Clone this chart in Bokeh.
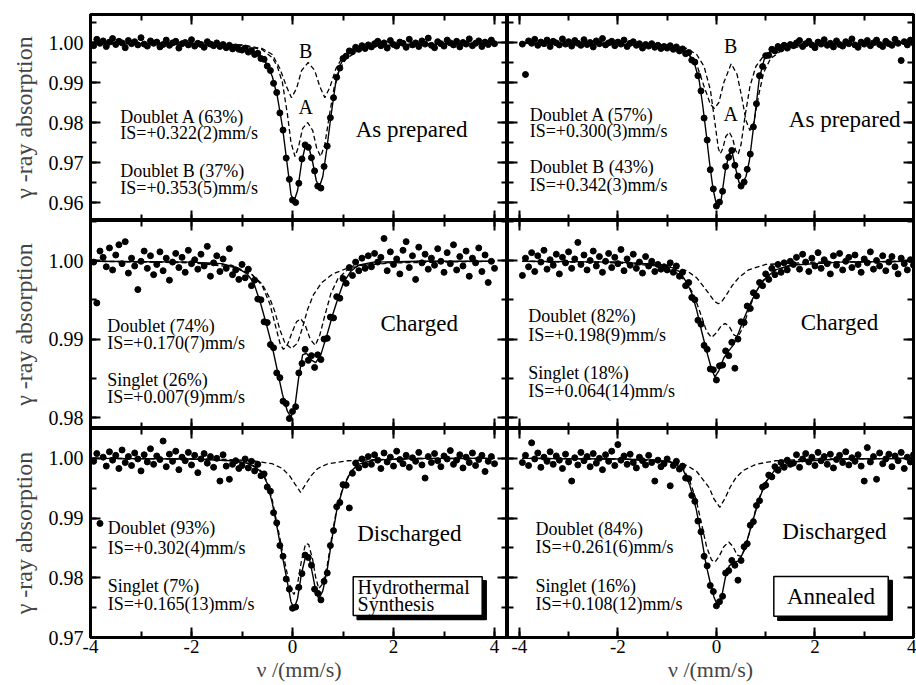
from bokeh.plotting import figure
from bokeh.layouts import column, row
from bokeh.models import (Range1d, LinearAxis, FixedTicker, NumeralTickFormatter,
                          CustomJSTickFormatter, Label, BoxAnnotation)
from bokeh.embed import file_html
from bokeh.resources import INLINE

FONT = "Liberation Serif, Times New Roman, Times, serif"

# ---------------- channel velocities (mm/s) ----------------
velocity = [
    -3.9375, -3.875, -3.8125, -3.75, -3.6875, -3.625, -3.5625, -3.5,
    -3.4375, -3.375, -3.3125, -3.25, -3.1875, -3.125, -3.0625, -3.0,
    -2.9375, -2.875, -2.8125, -2.75, -2.6875, -2.625, -2.5625, -2.5,
    -2.4375, -2.375, -2.3125, -2.25, -2.1875, -2.125, -2.0625, -2.0,
    -1.9375, -1.875, -1.8125, -1.75, -1.6875, -1.625, -1.5625, -1.5,
    -1.4375, -1.375, -1.3125, -1.25, -1.1875, -1.125, -1.0625, -1.0,
    -0.9375, -0.875, -0.8125, -0.75, -0.6875, -0.625, -0.5625, -0.5,
    -0.4375, -0.375, -0.3125, -0.25, -0.1875, -0.125, -0.0625, 0.0,
    0.0625, 0.125, 0.1875, 0.25, 0.3125, 0.375, 0.4375, 0.5,
    0.5625, 0.625, 0.6875, 0.75, 0.8125, 0.875, 0.9375, 1.0,
    1.0625, 1.125, 1.1875, 1.25, 1.3125, 1.375, 1.4375, 1.5,
    1.5625, 1.625, 1.6875, 1.75, 1.8125, 1.875, 1.9375, 2.0,
    2.0625, 2.125, 2.1875, 2.25, 2.3125, 2.375, 2.4375, 2.5,
    2.5625, 2.625, 2.6875, 2.75, 2.8125, 2.875, 2.9375, 3.0,
    3.0625, 3.125, 3.1875, 3.25, 3.3125, 3.375, 3.4375, 3.5,
    3.5625, 3.625, 3.6875, 3.75, 3.8125, 3.875, 3.9375, 4.0,
]

asprep_hydro = [
    0.9992, 1.0008, 0.9998, 1.0004, 0.9990, 1.0001, 1.0010, 0.9995, 1.0003, 0.9999,
    0.9987, 1.0005, 0.9997, 1.0002, 0.9994, 1.0012, 0.9996, 0.9991, 1.0004, 0.9998,
    1.0001, 0.9989, 0.9995, 1.0006, 0.9993, 0.9999, 1.0003, 0.9986, 0.9997, 1.0000,
    0.9994, 1.0007, 0.9991, 0.9998, 0.9995, 0.9988, 1.0002, 0.9996, 0.9992, 0.9999,
    0.9990, 0.9995, 0.9987, 0.9993, 0.9984, 0.9989, 0.9983,
    0.9981, 0.9986, 0.9976, 0.9980, 0.9970, 0.9973, 0.9960, 0.9958, 0.9941, 0.9930,
    0.9898, 0.9875, 0.9824, 0.9781, 0.9711, 0.9658, 0.9606, 0.9600, 0.9648, 0.9709,
    0.9744, 0.9738, 0.9712, 0.9679, 0.9641, 0.9636, 0.9690, 0.9741, 0.9812, 0.9862,
    0.9913, 0.9936, 0.9960, 0.9966, 0.9979, 0.9977, 0.9988, 0.9983, 0.9992, 0.9985,
    0.9994,
    0.9989, 0.9997, 1.0003, 0.9992, 0.9999, 0.9986, 1.0005, 0.9995, 0.9991, 1.0001,
    0.9998, 0.9988, 1.0008, 0.9994, 0.9999, 0.9990, 1.0004, 0.9996, 1.0011, 0.9993,
    0.9987, 1.0002, 0.9997, 0.9991, 1.0006, 0.9999, 0.9994, 1.0003, 0.9989, 1.0000,
    0.9996, 1.0009, 0.9992, 0.9998, 1.0004, 0.9990, 1.0001, 0.9995, 1.0006, 0.9997,
]
asprep_anneal = [
    0.9996, 0.9920, 1.0004, 0.9998, 1.0008, 0.9993, 1.0001, 0.9997, 1.0006, 0.9990,
    1.0003, 0.9999, 0.9994, 1.0009, 0.9996, 1.0002, 0.9991, 1.0005, 0.9998, 0.9993,
    1.0007, 0.9995, 1.0000, 0.9989, 1.0004, 0.9997, 1.0010, 0.9994, 0.9999, 1.0003,
    0.9992, 1.0001, 0.9996, 1.0006, 0.9990, 0.9998, 1.0002, 0.9993, 0.9997, 0.9986,
    0.9995, 0.9991, 0.9997, 0.9988, 0.9993, 0.9985, 0.9990,
    0.9986, 0.9992, 0.9983, 0.9989, 0.9979, 0.9984, 0.9972, 0.9975, 0.9956, 0.9951,
    0.9917, 0.9879, 0.9811, 0.9756, 0.9682, 0.9634, 0.9591, 0.9601, 0.9628, 0.9690,
    0.9713, 0.9730, 0.9693, 0.9666, 0.9641, 0.9651, 0.9683, 0.9721, 0.9789, 0.9847,
    0.9917, 0.9940, 0.9967, 0.9968, 0.9983, 0.9979, 0.9990, 0.9984, 0.9993, 0.9986,
    0.9995,
    0.9992, 0.9999, 1.0005, 0.9990, 0.9997, 1.0003, 0.9994, 0.9987, 1.0001, 0.9996,
    1.0007, 0.9993, 0.9998, 0.9989, 1.0004, 0.9995, 0.9991, 1.0002, 0.9997, 1.0009,
    0.9994, 0.9988, 1.0001, 0.9996, 1.0005, 0.9992, 0.9999, 1.0006, 0.9995, 0.9990,
    1.0003, 0.9997, 0.9993, 1.0008, 0.9998, 0.9955, 1.0002, 0.9994, 1.0006, 0.9999,
]
charged_hydro = [
    0.9998, 0.9946, 1.0012, 1.0004, 0.9992, 1.0016, 0.9988, 1.0007, 1.0020, 0.9996,
    1.0024, 0.9984, 1.0003, 0.9993, 0.9963, 0.9999, 1.0012, 0.9990, 1.0006, 0.9982,
    0.9995, 1.0011, 0.9987, 1.0003, 0.9975, 0.9998, 1.0009, 0.9991, 1.0004, 0.9985,
    1.0013, 0.9996, 1.0001, 0.9989, 1.0008, 0.9993, 1.0018, 0.9980, 0.9997, 1.0006,
    0.9986, 1.0002, 0.9990, 1.0015, 0.9982, 0.9988, 0.9976,
    0.9995, 0.9978, 0.9989, 0.9968, 0.9975, 0.9951, 0.9950, 0.9922, 0.9921, 0.9893,
    0.9889, 0.9857, 0.9851, 0.9821, 0.9818, 0.9799, 0.9808, 0.9814, 0.9857, 0.9869,
    0.9887, 0.9873, 0.9879, 0.9864, 0.9880, 0.9874, 0.9900, 0.9901, 0.9928, 0.9927,
    0.9954, 0.9952, 0.9977, 0.9971, 0.9991, 0.9981, 0.9998, 0.9987, 1.0003, 0.9990,
    1.0006,
    0.9992, 1.0009, 0.9998, 1.0004, 1.0028, 0.9987, 1.0011, 0.9995, 1.0002, 0.9983,
    1.0013, 1.0024, 0.9991, 1.0006, 0.9976, 1.0017, 0.9997, 1.0008, 0.9989, 1.0003,
    0.9994, 1.0015, 0.9999, 0.9985, 1.0010, 0.9996, 1.0020, 0.9988, 1.0005, 0.9993,
    1.0012, 0.9980, 1.0003, 0.9997, 1.0016, 0.9986, 1.0007, 0.9972, 0.9999, 0.9990,
]
charged_anneal = [
    0.9981, 1.0003, 0.9992, 1.0010, 0.9986, 1.0006, 0.9998, 1.0013, 0.9989, 1.0001,
    0.9994, 1.0008, 0.9983, 1.0004, 0.9997, 1.0011, 0.9990, 1.0002, 1.0023, 0.9995,
    1.0007, 0.9988, 1.0000, 1.0012, 0.9993, 1.0005, 0.9985, 0.9999, 1.0009, 0.9991,
    1.0004, 0.9996, 1.0014, 0.9987, 1.0002, 0.9994, 1.0008, 0.9990, 0.9998, 0.9984,
    1.0005, 0.9993, 0.9999, 0.9986, 0.9995, 0.9989, 0.9992,
    0.9988, 0.9997, 0.9985, 0.9993, 0.9980, 0.9985, 0.9968, 0.9972, 0.9953, 0.9950,
    0.9924, 0.9919, 0.9892, 0.9887, 0.9862, 0.9861, 0.9848, 0.9866, 0.9867, 0.9885,
    0.9879, 0.9896, 0.9863, 0.9900, 0.9922, 0.9921, 0.9942, 0.9939, 0.9959, 0.9955,
    0.9972, 0.9968, 0.9983, 0.9976, 0.9990, 0.9982, 0.9995, 0.9985, 0.9997, 0.9988,
    0.9999,
    0.9995, 1.0004, 0.9989, 1.0008, 0.9998, 0.9986, 1.0003, 0.9993, 1.0010, 0.9990,
    1.0001, 0.9996, 0.9983, 1.0006, 0.9994, 1.0009, 0.9988, 0.9999, 1.0004, 0.9991,
    1.0007, 0.9995, 0.9985, 1.0002, 0.9997, 1.0011, 0.9989, 1.0000, 0.9993, 1.0006,
    0.9987, 0.9998, 1.0005, 0.9992, 0.9983, 1.0003, 0.9996, 0.9988, 1.0001, 0.9994,
]
discharged_hydro = [
    0.9995, 1.0008, 0.9891, 1.0002, 0.9987, 1.0011, 0.9997, 1.0005, 0.9983, 1.0014,
    0.9993, 1.0003, 0.9988, 1.0009, 0.9999, 0.9979, 1.0006, 0.9994, 1.0016, 0.9990,
    1.0004, 0.9998, 1.0029, 0.9986, 1.0007, 0.9995, 1.0012, 0.9981, 1.0002, 0.9996,
    1.0010, 0.9989, 1.0005, 0.9976, 0.9999, 1.0008, 0.9992, 1.0003, 0.9985, 1.0000,
    0.9962, 1.0006, 0.9987, 0.9965, 0.9990, 0.9996, 0.9983,
    0.9988, 0.9999, 0.9984, 0.9995, 0.9979, 0.9990, 0.9971, 0.9974, 0.9952, 0.9945,
    0.9909, 0.9892, 0.9854, 0.9836, 0.9798, 0.9781, 0.9749, 0.9751, 0.9784, 0.9807,
    0.9838, 0.9834, 0.9821, 0.9781, 0.9774, 0.9763, 0.9794, 0.9808, 0.9854, 0.9879,
    0.9919, 0.9926, 0.9956, 0.9955, 0.9917, 0.9975, 0.9992, 0.9984, 0.9999, 0.9989,
    1.0003,
    0.9990, 1.0006, 0.9997, 0.9983, 1.0009, 0.9994, 1.0002, 0.9987, 1.0012, 0.9998,
    0.9991, 1.0005, 0.9985, 1.0001, 0.9995, 1.0010, 0.9989, 0.9967, 1.0003, 0.9993,
    1.0008, 0.9996, 0.9986, 1.0004, 0.9999, 1.0013, 0.9990, 0.9997, 1.0006, 0.9984,
    1.0002, 0.9993, 1.0009, 0.9988, 0.9998, 1.0005, 0.9978, 0.9995, 1.0003, 0.9991,
]
discharged_anneal = [
    0.9993, 1.0005, 0.9988, 1.0026, 0.9999, 1.0009, 0.9985, 1.0002, 0.9995, 1.0011,
    0.9990, 1.0004, 0.9997, 0.9983, 1.0007, 0.9994, 0.9962, 1.0001, 0.9989, 1.0010,
    0.9996, 1.0003, 0.9986, 1.0008, 0.9992, 1.0000, 0.9981, 1.0006, 0.9995, 1.0012,
    0.9988, 1.0023, 0.9997, 1.0004, 0.9990, 1.0007, 0.9993, 0.9984, 1.0002, 0.9996,
    0.9989, 1.0005, 0.9993, 0.9962, 0.9997, 0.9986, 0.9991,
    0.9999, 0.9954, 0.9988, 0.9995, 0.9982, 0.9987, 0.9967, 0.9966, 0.9938, 0.9928,
    0.9895, 0.9877, 0.9836, 0.9820, 0.9787, 0.9777, 0.9753, 0.9760, 0.9769, 0.9808,
    0.9812, 0.9829, 0.9821, 0.9796, 0.9829, 0.9852, 0.9857, 0.9888, 0.9894, 0.9921,
    0.9929, 0.9952, 0.9955, 0.9972, 0.9969, 0.9986, 0.9980, 0.9993, 0.9985, 0.9997,
    0.9990,
    0.9992, 1.0006, 0.9985, 0.9999, 1.0008, 0.9994, 1.0002, 0.9988, 1.0010, 0.9996,
    1.0003, 0.9990, 1.0007, 0.9984, 0.9998, 1.0005, 0.9993, 1.0011, 0.9989, 1.0001,
    0.9995, 1.0006, 0.9987, 0.9962, 1.0018, 0.9994, 1.0003, 0.9965, 1.0009, 0.9991,
    0.9999, 1.0007, 0.9986, 1.0004, 0.9996, 1.0010, 0.9983, 1.0002, 0.9994, 1.0006,
]

# ---------------- fitted envelopes and sub-spectra -------
asprep_hydro_fit_v = [-3.94, -3.0, -2.0, -1.5, -1.0, -0.8, -0.6, -0.5, -0.4, -0.3, -0.2, -0.1,
                      -0.03, 0.03, 0.10, 0.18, 0.26, 0.32, 0.40, 0.47, 0.53, 0.60, 0.68, 0.76,
                      0.85, 0.95, 1.05, 1.2, 1.5, 2.0, 3.0, 4.0]
asprep_hydro_fit = [0.9997, 0.9996, 0.9994, 0.9991, 0.9985, 0.9978, 0.9962, 0.9945, 0.9915, 0.9865,
                    0.9790, 0.9690, 0.9620, 0.9603, 0.9630, 0.9700, 0.9745, 0.9740, 0.9700, 0.9655,
                    0.9638, 0.9665, 0.9735, 0.9815, 0.9895, 0.9945, 0.9968, 0.9982, 0.9990, 0.9994,
                    0.9996, 0.9997]
asprep_hydro_a_v = [-3.94, -2.0, -1.0, -0.6, -0.4, -0.3, -0.2, -0.1, -0.03, 0.05, 0.12, 0.20, 0.30,
                    0.40, 0.48, 0.56, 0.64, 0.72, 0.82, 0.92, 1.05, 1.3, 1.7, 2.5, 4.0]
asprep_hydro_a = [0.9999, 0.9998, 0.9993, 0.9982, 0.9962, 0.9940, 0.9900, 0.9820, 0.9750, 0.9715,
                  0.9740, 0.9785, 0.9800, 0.9780, 0.9735, 0.9715, 0.9745, 0.9810, 0.9885, 0.9930,
                  0.9958, 0.9980, 0.9990, 0.9996, 0.9998]
asprep_hydro_b_v = [-3.94, -2.0, -1.0, -0.6, -0.4, -0.25, -0.12, -0.02, 0.08, 0.18, 0.31, 0.44,
                    0.54, 0.64, 0.74, 0.86, 1.0, 1.2, 1.6, 2.5, 4.0]
asprep_hydro_b = [0.9999, 0.9998, 0.9994, 0.9985, 0.9970, 0.9935, 0.9890, 0.9862, 0.9885, 0.9930,
                  0.9950, 0.9930, 0.9890, 0.9862, 0.9888, 0.9935, 0.9965, 0.9982, 0.9991, 0.9997,
                  0.9999]

asprep_anneal_fit_v = [-3.94, -2.0, -1.0, -0.7, -0.55, -0.45, -0.35, -0.28, -0.21, -0.14, -0.07,
                       0.0, 0.04, 0.10, 0.18, 0.26, 0.32, 0.40, 0.46, 0.52, 0.60, 0.67, 0.77,
                       0.87, 0.97, 1.1, 1.3, 1.7, 2.5, 4.0]
asprep_anneal_fit = [0.9998, 0.9996, 0.9990, 0.9982, 0.9970, 0.9950, 0.9905, 0.9845, 0.9775, 0.9700,
                     0.9635, 0.9595, 0.9590, 0.9610, 0.9680, 0.9722, 0.9725, 0.9680, 0.9650, 0.9645,
                     0.9665, 0.9705, 0.9805, 0.9910, 0.9958, 0.9978, 0.9988, 0.9994, 0.9997, 0.9998]
asprep_anneal_a_v = [-3.94, -2.0, -1.0, -0.6, -0.4, -0.25, -0.12, -0.02, 0.04, 0.08, 0.13, 0.19,
                     0.26, 0.33, 0.39, 0.44, 0.50, 0.58, 0.68, 0.80, 0.95, 1.2, 1.6, 2.5, 4.0]
asprep_anneal_a = [0.9999, 0.9998, 0.9994, 0.9985, 0.9970, 0.9940, 0.9880, 0.9790, 0.9735, 0.9722,
                   0.9735, 0.9765, 0.9776, 0.9760, 0.9730, 0.9720, 0.9745, 0.9815, 0.9890, 0.9940,
                   0.9965, 0.9982, 0.9991, 0.9997, 0.9999]
asprep_anneal_b_v = [-3.94, -2.0, -1.0, -0.6, -0.4, -0.25, -0.12, -0.04, 0.05, 0.15, 0.30, 0.42,
                     0.52, 0.60, 0.68, 0.76, 0.86, 0.96, 1.1, 1.3, 1.7, 2.5, 4.0]
asprep_anneal_b = [0.9999, 0.9996, 0.9988, 0.9975, 0.9945, 0.9890, 0.9845, 0.9835, 0.9850, 0.9900,
                   0.9947, 0.9920, 0.9860, 0.9805, 0.9780, 0.9800, 0.9870, 0.9925, 0.9960, 0.9978,
                   0.9990, 0.9996, 0.9998]

charged_hydro_fit_v = [-3.94, -2.0, -1.4, -1.1, -0.9, -0.77, -0.63, -0.5, -0.4, -0.3, -0.2, -0.1,
                       -0.03, 0.05, 0.12, 0.20, 0.28, 0.36, 0.46, 0.56, 0.69, 0.80, 0.90, 1.01,
                       1.15, 1.3, 1.6, 2.5, 4.0]
charged_hydro_fit = [0.9999, 0.9998, 0.9996, 0.9991, 0.9983, 0.9972, 0.9945, 0.9915, 0.9890, 0.9860,
                     0.9830, 0.9808, 0.9801, 0.9815, 0.9850, 0.9880, 0.9882, 0.9874, 0.9870, 0.9880,
                     0.9907, 0.9932, 0.9952, 0.9972, 0.9986, 0.9994, 0.9998, 0.9999, 0.9999]
charged_hydro_d_v = [-3.94, -2.0, -1.2, -0.8, -0.6, -0.45, -0.33, -0.24, -0.18, -0.10, 0.0, 0.08,
                     0.16, 0.25, 0.35, 0.45, 0.54, 0.64, 0.76, 0.90, 1.1, 1.5, 2.5, 4.0]
charged_hydro_d = [0.9999, 0.9998, 0.9994, 0.9982, 0.9968, 0.9945, 0.9915, 0.9893, 0.9887, 0.9893,
                   0.9910, 0.9922, 0.9926, 0.9918, 0.9900, 0.9892, 0.9905, 0.9930, 0.9958, 0.9977,
                   0.9989, 0.9996, 0.9999, 0.9999]
charged_hydro_s_v = [-3.94, -2.0, -1.2, -0.8, -0.6, -0.45, -0.35, -0.25, -0.15, -0.02, 0.10, 0.20,
                     0.30, 0.42, 0.58, 0.80, 1.2, 2.0, 4.0]
charged_hydro_s = [0.9999, 0.9997, 0.9992, 0.9982, 0.9970, 0.9952, 0.9935, 0.9912, 0.9895, 0.9888,
                   0.9895, 0.9915, 0.9938, 0.9957, 0.9972, 0.9983, 0.9993, 0.9997, 0.9999]

charged_anneal_fit_v = [-3.94, -2.0, -1.2, -0.9, -0.75, -0.6, -0.5, -0.4, -0.3, -0.2, -0.1, -0.03,
                        0.05, 0.15, 0.25, 0.35, 0.45, 0.55, 0.70, 0.85, 1.0, 1.2, 1.5, 2.5, 4.0]
charged_anneal_fit = [0.9999, 0.9998, 0.9995, 0.9991, 0.9986, 0.9972, 0.9958, 0.9937, 0.9910, 0.9885,
                      0.9862, 0.9852, 0.9860, 0.9876, 0.9885, 0.9893, 0.9908, 0.9925, 0.9947, 0.9965,
                      0.9978, 0.9988, 0.9994, 0.9998, 0.9999]
charged_anneal_d_v = [-3.94, -2.0, -1.2, -0.8, -0.6, -0.45, -0.32, -0.2, -0.1, 0.0, 0.1, 0.18, 0.27,
                      0.36, 0.44, 0.54, 0.66, 0.80, 0.95, 1.2, 1.6, 2.5, 4.0]
charged_anneal_d = [0.9999, 0.9997, 0.9993, 0.9984, 0.9972, 0.9955, 0.9932, 0.9910, 0.9902, 0.9908,
                    0.9917, 0.9920, 0.9915, 0.9905, 0.9903, 0.9915, 0.9938, 0.9960, 0.9975, 0.9988,
                    0.9995, 0.9998, 0.9999]
charged_anneal_s_v = [-3.94, -2.0, -1.0, -0.6, -0.4, -0.25, -0.12, -0.04, 0.04, 0.11, 0.2, 0.32,
                      0.45, 0.65, 1.0, 2.0, 4.0]
charged_anneal_s = [0.9999, 0.9998, 0.9994, 0.9987, 0.9978, 0.9966, 0.9955, 0.9948, 0.9945, 0.9948,
                    0.9956, 0.9968, 0.9978, 0.9988, 0.9995, 0.9998, 0.9999]

discharged_hydro_fit_v = [-3.94, -2.0, -1.2, -0.9, -0.73, -0.6, -0.5, -0.4, -0.3, -0.2, -0.1, -0.03,
                          0.03, 0.10, 0.18, 0.26, 0.32, 0.40, 0.46, 0.52, 0.60, 0.69, 0.79, 0.88,
                          1.0, 1.15, 1.3, 1.6, 2.5, 4.0]
discharged_hydro_fit = [1.0000, 0.9999, 0.9996, 0.9992, 0.9985, 0.9975, 0.9958, 0.9925, 0.9882, 0.9836,
                        0.9792, 0.9760, 0.9748, 0.9765, 0.9808, 0.9836, 0.9838, 0.9805, 0.9778, 0.9765,
                        0.9778, 0.9815, 0.9870, 0.9915, 0.9950, 0.9977, 0.9990, 0.9997, 1.0000, 1.0000]
discharged_hydro_d_v = discharged_hydro_fit_v
discharged_hydro_d = [1.0000, 0.9999, 0.9996, 0.9992, 0.9986, 0.9977, 0.9960, 0.9930, 0.9888, 0.9845,
                      0.9805, 0.9780, 0.9772, 0.9790, 0.9830, 0.9857, 0.9856, 0.9830, 0.9800, 0.9782,
                      0.9790, 0.9822, 0.9875, 0.9918, 0.9952, 0.9978, 0.9990, 0.9997, 1.0000, 1.0000]
discharged_hydro_s_v = [-3.94, -1.5, -0.8, -0.4, -0.2, -0.05, 0.05, 0.16, 0.27, 0.37, 0.5, 0.7,
                        1.1, 2.0, 4.0]
discharged_hydro_s = [1.0000, 0.9999, 0.9996, 0.9991, 0.9983, 0.9970, 0.9957, 0.9943, 0.9958, 0.9971,
                      0.9983, 0.9991, 0.9996, 0.9999, 1.0000]

discharged_anneal_fit_v = [-3.94, -2.0, -1.2, -0.88, -0.68, -0.54, -0.41, -0.31, -0.21, -0.12, -0.05,
                           0.03, 0.10, 0.18, 0.26, 0.35, 0.45, 0.53, 0.60, 0.73, 0.87, 1.0, 1.2,
                           1.5, 2.5, 4.0]
discharged_anneal_fit = [1.0000, 0.9999, 0.9997, 0.9993, 0.9982, 0.9955, 0.9915, 0.9871, 0.9822, 0.9790,
                         0.9768, 0.9752, 0.9765, 0.9800, 0.9820, 0.9826, 0.9828, 0.9840, 0.9856, 0.9893,
                         0.9932, 0.9960, 0.9982, 0.9994, 0.9999, 1.0000]
discharged_anneal_d_v = [-3.94, -2.0, -1.2, -0.88, -0.68, -0.54, -0.41, -0.30, -0.20, -0.10, -0.03,
                         0.05, 0.15, 0.25, 0.34, 0.42, 0.50, 0.58, 0.70, 0.85, 1.0, 1.2, 1.5, 2.5, 4.0]
discharged_anneal_d = [1.0000, 0.9999, 0.9997, 0.9994, 0.9984, 0.9962, 0.9930, 0.9890, 0.9852, 0.9830,
                       0.9826, 0.9835, 0.9852, 0.9860, 0.9852, 0.9838, 0.9836, 0.9848, 0.9885, 0.9930,
                       0.9960, 0.9982, 0.9994, 0.9999, 1.0000]
discharged_anneal_s_v = [-3.94, -2.0, -1.0, -0.6, -0.4, -0.25, -0.14, -0.05, 0.07, 0.18, 0.28, 0.40,
                         0.55, 0.80, 1.2, 2.0, 4.0]
discharged_anneal_s = [1.0000, 0.9999, 0.9995, 0.9988, 0.9978, 0.9962, 0.9950, 0.9932, 0.9918, 0.9934,
                       0.9952, 0.9968, 0.9980, 0.9990, 0.9996, 0.9999, 1.0000]

# ---------------- axis ticks ----------------
x_major = [-4, -2, 0, 2, 4]
x_minor = [-4, -3, -2, -1, 0, 1, 2, 3, 4]
row_y_range = [(0.9555, 1.0070), (0.97863, 1.00509), (0.9700, 1.0050)]
row_y_major = [[0.96, 0.97, 0.98, 0.99, 1.00], [0.98, 0.99, 1.00], [0.97, 0.98, 0.99, 1.00]]
row_y_minor = [[0.955, 0.96, 0.965, 0.97, 0.975, 0.98, 0.985, 0.99, 0.995, 1.0, 1.005],
               [0.98, 0.985, 0.99, 0.995, 1.0, 1.005],
               [0.97, 0.975, 0.98, 0.985, 0.99, 0.995, 1.0, 1.005]]

for arr in (asprep_hydro, asprep_anneal, charged_hydro, charged_anneal,
            discharged_hydro, discharged_anneal):
    assert len(arr) == len(velocity), len(arr)


def style_axis(ax, ticks, minor, labels, fmt=None, size="20px"):
    ax.ticker = FixedTicker(ticks=ticks, minor_ticks=minor)
    ax.axis_line_width = 3
    ax.axis_line_color = "black"
    ax.major_tick_in = 10
    ax.major_tick_out = 0
    ax.minor_tick_in = 6
    ax.minor_tick_out = 0
    ax.major_tick_line_width = 2
    ax.minor_tick_line_width = 2
    ax.major_tick_line_color = "black"
    ax.minor_tick_line_color = "black"
    if labels:
        ax.formatter = NumeralTickFormatter(format=fmt)
        ax.major_label_text_font = FONT
        ax.major_label_text_font_size = size
        ax.major_label_text_color = "black"
        ax.major_label_standoff = 7
    else:
        ax.formatter = CustomJSTickFormatter(code="return ''")
        ax.major_label_text_font_size = "0px"
        ax.major_label_standoff = 0


def make_panel(col, r, counts, curves, texts, boxes=()):
    left = col == 0
    p = figure(width=507 if left else 409, height=[220, 208, 256][r],
               x_range=Range1d(-4.0, 4.257) if left else Range1d(-4.24, 4.0),
               y_range=Range1d(*row_y_range[r]),
               output_backend="svg", toolbar_location=None, title=None,
               min_border_left=90 if left else 0,
               min_border_right=0 if left else 3,
               min_border_top=14 if r == 0 else 0,
               min_border_bottom=46 if r == 2 else 0,
               outline_line_color="black", outline_line_width=3,
               background_fill_color="white", border_fill_color="white")
    p.xgrid.grid_line_color = None
    p.ygrid.grid_line_color = None

    xb = p.xaxis[0]
    style_axis(xb, x_major, x_minor, r == 2, "0", "19px")
    if r == 2:
        xb.major_label_standoff = 2
        xb.axis_label = "\u03bd /(mm/s)"
        xb.axis_label_text_font = FONT
        xb.axis_label_text_font_size = "22px"
        xb.axis_label_text_font_style = "normal"
        xb.axis_label_standoff = 1
    yl = p.yaxis[0]
    style_axis(yl, row_y_major[r], row_y_minor[r], left, "0.00", "20px")
    if left:
        yl.axis_label = "\u03b3 -ray absorption"
        yl.axis_label_text_font = FONT
        yl.axis_label_text_font_size = "24px"
        yl.axis_label_text_font_style = "normal"
        yl.axis_label_standoff = 9
    top = LinearAxis()
    p.add_layout(top, "above")
    style_axis(top, x_major, x_minor, False)
    right = LinearAxis()
    p.add_layout(right, "right")
    style_axis(right, row_y_major[r], row_y_minor[r], False)

    p.scatter(velocity, counts, size=6, marker="circle", color="black")
    for vx, vy, dash in curves:
        if dash:
            p.line(vx, vy, line_color="black", line_width=1.3, line_dash="5 3")
        else:
            p.line(vx, vy, line_color="black", line_width=1.4)

    for (l, rr, t, b, fill, lw) in boxes:
        p.add_layout(BoxAnnotation(left=l, right=rr, top=t, bottom=b, fill_color=fill,
                                   fill_alpha=1.0, line_color="black", line_width=lw,
                                   line_alpha=1.0))
    for (x, y, txt, size, align) in texts:
        p.add_layout(Label(x=x, y=y, text=txt, text_font=FONT, text_font_size=size,
                           text_baseline="middle", text_align=align, text_color="black"))
    return p


p_tl = make_panel(0, 0, asprep_hydro,
                  [(asprep_hydro_fit_v, asprep_hydro_fit, False),
                   (asprep_hydro_a_v, asprep_hydro_a, True),
                   (asprep_hydro_b_v, asprep_hydro_b, True)],
                  [(0.26, 0.9980, "B", "20px", "center"),
                   (0.26, 0.9838, "A", "20px", "center"),
                   (-3.41, 0.9813, "Doublet A (63%)", "18px", "left"),
                   (-3.41, 0.9773, "IS=+0.322(2)mm/s", "18px", "left"),
                   (-3.41, 0.9680, "Doublet B (37%)", "18px", "left"),
                   (-3.41, 0.9636, "IS=+0.353(5)mm/s", "18px", "left"),
                   (1.25, 0.9782, "As prepared", "23px", "left")])
p_tr = make_panel(1, 0, asprep_anneal,
                  [(asprep_anneal_fit_v, asprep_anneal_fit, False),
                   (asprep_anneal_a_v, asprep_anneal_a, True),
                   (asprep_anneal_b_v, asprep_anneal_b, True)],
                  [(0.29, 0.99925, "B", "20px", "center"),
                   (0.29, 0.9822, "A", "20px", "center"),
                   (-3.79, 0.9820, "Doublet A (57%)", "18px", "left"),
                   (-3.79, 0.9779, "IS=+0.300(3)mm/s", "18px", "left"),
                   (-3.79, 0.9690, "Doublet B (43%)", "18px", "left"),
                   (-3.79, 0.9645, "IS=+0.342(3)mm/s", "18px", "left"),
                   (1.47, 0.9807, "As prepared", "23px", "left")])
p_ml = make_panel(0, 1, charged_hydro,
                  [(charged_hydro_fit_v, charged_hydro_fit, False),
                   (charged_hydro_d_v, charged_hydro_d, True),
                   (charged_hydro_s_v, charged_hydro_s, True)],
                  [(-3.67, 0.99165, "Doublet (74%)", "18px", "left"),
                   (-3.67, 0.98946, "IS=+0.170(7)mm/s", "18px", "left"),
                   (-3.67, 0.98478, "Singlet (26%)", "18px", "left"),
                   (-3.67, 0.98259, "IS=+0.007(9)mm/s", "18px", "left"),
                   (1.74, 0.99196, "Charged", "23px", "left")])
p_mr = make_panel(1, 1, charged_anneal,
                  [(charged_anneal_fit_v, charged_anneal_fit, False),
                   (charged_anneal_d_v, charged_anneal_d, True),
                   (charged_anneal_s_v, charged_anneal_s, True)],
                  [(-3.82, 0.9929, "Doublet (82%)", "18px", "left"),
                   (-3.82, 0.9905, "IS=+0.198(9)mm/s", "18px", "left"),
                   (-3.82, 0.98565, "Singlet (18%)", "18px", "left"),
                   (-3.82, 0.98342, "IS=+0.064(14)mm/s", "18px", "left"),
                   (1.71, 0.99217, "Charged", "23px", "left")])
p_bl = make_panel(0, 2, discharged_hydro,
                  [(discharged_hydro_fit_v, discharged_hydro_fit, False),
                   (discharged_hydro_d_v, discharged_hydro_d, True),
                   (discharged_hydro_s_v, discharged_hydro_s, True)],
                  [(-3.66, 0.98828, "Doublet (93%)", "18px", "left"),
                   (-3.66, 0.98503, "IS=+0.302(4)mm/s", "18px", "left"),
                   (-3.66, 0.97867, "Singlet (7%)", "18px", "left"),
                   (-3.66, 0.97567, "IS=+0.165(13)mm/s", "18px", "left"),
                   (1.28, 0.98745, "Discharged", "23px", "left"),
                   (1.287, 0.97850, "Hydrothermal", "20px", "left"),
                   (1.287, 0.97567, "Synthesis", "20px", "left")],
                  boxes=[(1.28, 3.835, 0.97950, 0.97300, "black", 1.5),
                         (1.202, 3.756, 0.98017, 0.97367, "white", 1.5)])
p_br = make_panel(1, 2, discharged_anneal,
                  [(discharged_anneal_fit_v, discharged_anneal_fit, False),
                   (discharged_anneal_d_v, discharged_anneal_d, True),
                   (discharged_anneal_s_v, discharged_anneal_s, True)],
                  [(-3.67, 0.98817, "Doublet (84%)", "18px", "left"),
                   (-3.67, 0.98508, "IS=+0.261(6)mm/s", "18px", "left"),
                   (-3.67, 0.97862, "Singlet (16%)", "18px", "left"),
                   (-3.67, 0.97563, "IS=+0.108(12)mm/s", "18px", "left"),
                   (1.335, 0.98772, "Discharged", "23px", "left"),
                   (2.326, 0.97688, "Annealed", "23px", "center")],
                  boxes=[(1.246, 3.568, 0.97955, 0.97288, "black", 1.5),
                         (1.165, 3.487, 0.98022, 0.97355, "white", 1.5)])

layout = column(row(p_tl, p_tr), row(p_ml, p_mr), row(p_bl, p_br))
open("out.html", "w").write(file_html(layout, INLINE))
